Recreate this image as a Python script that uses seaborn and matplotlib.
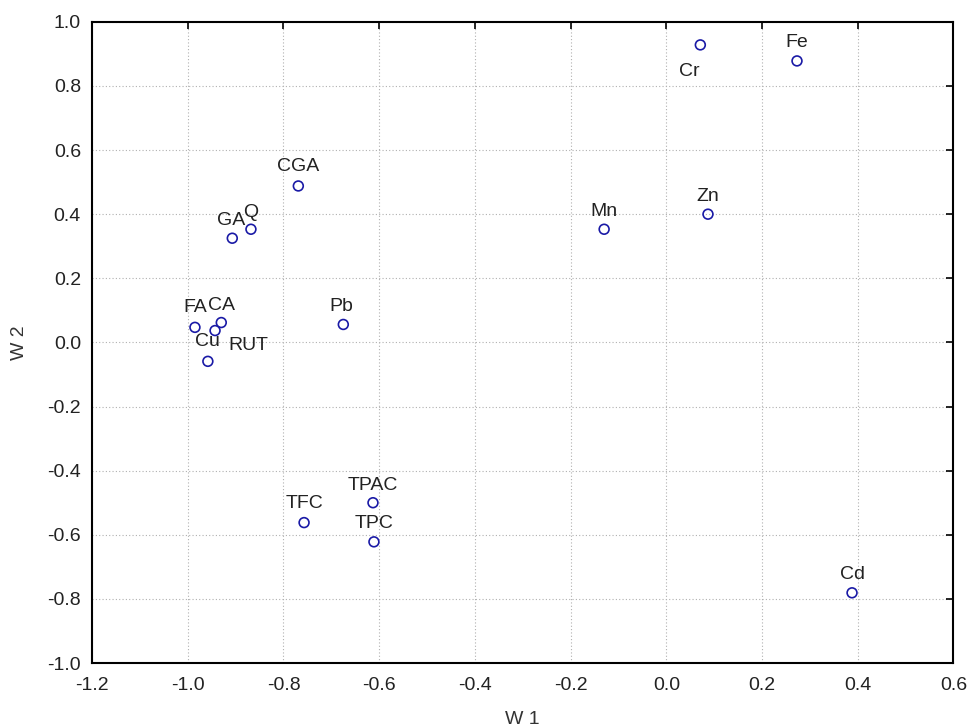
import matplotlib
matplotlib.use("Agg")
import matplotlib.pyplot as plt
import seaborn as sns
import pandas as pd

# Variable loadings on the first two components
variables = ["Cr", "Fe", "Zn", "Mn", "CGA", "GA", "Q", "FA", "CA", "RUT",
             "Cu", "Pb", "TFC", "TPAC", "TPC", "Cd"]
w1 = [0.071, 0.273, 0.087, -0.130, -0.769, -0.907, -0.868, -0.985, -0.930, -0.943,
      -0.958, -0.675, -0.757, -0.613, -0.611, 0.388]
w2 = [0.928, 0.878, 0.400, 0.353, 0.488, 0.325, 0.353, 0.047, 0.062, 0.037,
      -0.059, 0.056, -0.562, -0.500, -0.622, -0.781]

x_ticks = [-1.2, -1.0, -0.8, -0.6, -0.4, -0.2, 0.0, 0.2, 0.4, 0.6]
y_ticks = [-1.0, -0.8, -0.6, -0.4, -0.2, 0.0, 0.2, 0.4, 0.6, 0.8, 1.0]

df = pd.DataFrame({"name": variables, "W 1": w1, "W 2": w2})

sns.set_style("white")
plt.rcParams["font.family"] = ["Liberation Sans", "DejaVu Sans"]

fig = plt.figure(figsize=(9.69, 7.27), dpi=100)
ax = fig.add_axes([0.095, 0.088, 0.889, 0.882])

sns.scatterplot(data=df, x="W 1", y="W 2", ax=ax, marker="o", s=50,
                facecolor="none", edgecolor="#1a1aa6", linewidth=1.2,
                zorder=3)

# label placement in points relative to each marker
offsets = {
    "Cr": (-8, -19.5), "Fe": (0, 13), "Zn": (0, 13), "Mn": (0, 13),
    "CGA": (0, 14), "GA": (-1, 13), "Q": (0, 12), "FA": (0, 14),
    "CA": (0, 12.5), "RUT": (24, -11), "Cu": (0, 14), "Pb": (-1.5, 13),
    "TFC": (0, 13.5), "TPAC": (0, 12.5), "TPC": (0, 13.5), "Cd": (0, 13.5),
}
for name, x, y in zip(variables, w1, w2):
    dx, dy = offsets[name]
    ax.annotate(name, (x, y), xytext=(dx, dy), textcoords="offset points",
                ha="center", va="center", fontsize=14, color="#222222")

ax.set_xlim(-1.2, 0.6)
ax.set_ylim(-1.0, 1.0)
ax.set_xticks(x_ticks)
ax.set_yticks(y_ticks)
ax.set_xticklabels([f"{v:.1f}" for v in x_ticks])
ax.set_yticklabels([f"{v:.1f}" for v in y_ticks])
ax.grid(True, linestyle=(0, (1, 2)), color="#b0b0b0", linewidth=0.8)
ax.tick_params(direction="in", length=5, width=1.2, top=True, right=True,
               labelsize=14, colors="black", labelcolor="#222222")
ax.tick_params(axis="x", pad=10)
ax.tick_params(axis="y", pad=8)
for sp in ax.spines.values():
    sp.set_linewidth(1.5)
    sp.set_color("black")
ax.set_xlabel("W 1", fontsize=14, color="#333333", labelpad=12)
ax.set_ylabel("W 2", fontsize=14, color="#333333", labelpad=14)

fig.savefig("out.png", dpi=100)
